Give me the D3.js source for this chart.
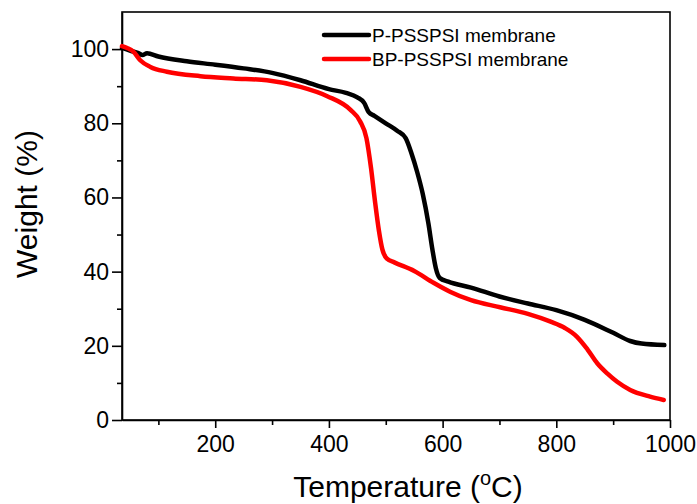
<!DOCTYPE html>
<html>
<head>
<meta charset="utf-8">
<script src="https://cdn.jsdelivr.net/npm/d3@7"></script>
<style>
  body { margin: 0; background: #fff; }
  svg { font-family: Arial, 'Liberation Sans', sans-serif; }
  .axis path, .axis line { stroke: #000; stroke-width: 1.6; }
</style>
</head>
<body>
<div id="chart"></div>
<script>
// series: [temperature (C), weight (%)]
var pTemp   = [36, 50, 65, 72, 80, 100, 150, 200, 250, 300, 350, 400, 430, 450, 462, 470, 480, 500, 520, 535, 545, 555, 565, 575, 582, 588, 595, 610, 650, 700, 750, 800, 850, 900, 930, 950, 990];
var pWeight = [100.3, 99.6, 98.9, 98.4, 98.9, 98.0, 96.7, 95.8, 94.8, 93.6, 91.6, 89.2, 88.2, 87.0, 85.5, 83.0, 82.0, 80.0, 78.0, 76.0, 72.0, 67.0, 61.0, 53.0, 46.0, 41.0, 38.3, 37.3, 35.7, 33.3, 31.4, 29.6, 27.0, 23.5, 21.3, 20.6, 20.2];

var bpTemp   = [36, 45, 56, 68, 86, 115, 174, 232, 291, 350, 397, 438, 455, 466, 474, 481, 488, 494, 502, 515, 550, 584, 613, 650, 701, 750, 790, 815, 836, 855, 872, 890, 907, 930, 965, 989];
var bpWeight = [100.8, 100.3, 99.3, 97.0, 95.2, 93.9, 92.7, 92.1, 91.6, 89.8, 87.3, 83.6, 80.5, 76.0, 68.0, 59.0, 51.0, 46.0, 43.5, 42.5, 40.2, 37.0, 34.6, 32.3, 30.4, 28.6, 26.5, 24.8, 22.5, 19.0, 15.3, 12.5, 10.3, 8.1, 6.3, 5.4];

var seriesNames = ['P-PSSPSI membrane', 'BP-PSSPSI membrane'];
var seriesColors = ['#000000', '#ff0000'];

var xMajor = [200, 400, 600, 800, 1000];
var xMinor = [100, 300, 500, 700, 900];
var yMajor = [0, 20, 40, 60, 80, 100];
var yMinor = [10, 30, 50, 70, 90];

var W = 697, H = 504;
var margin = {top: 12, right: 27, bottom: 84, left: 122};
var width = W - margin.left - margin.right,
    height = H - margin.top - margin.bottom;

var svg = d3.select('#chart').append('svg')
    .attr('width', W)
    .attr('height', H);

var chart = svg.append('g')
    .attr('transform', 'translate(' + margin.left + ',' + margin.top + ')');

var xScale = d3.scaleLinear().domain([36, 1000]).range([0, width]);
var yScale = d3.scaleLinear().domain([0, 110]).range([height, 0]);

// minor ticks first, majors on top
chart.append('g').attr('class', 'axis')
    .attr('transform', 'translate(0,' + height + ')')
    .call(d3.axisBottom(xScale).tickValues(xMinor).tickSize(5).tickFormat(''))
    .select('.domain').remove();
chart.append('g').attr('class', 'axis')
    .call(d3.axisLeft(yScale).tickValues(yMinor).tickSize(5).tickFormat(''))
    .select('.domain').remove();

var xAxisG = chart.append('g').attr('class', 'axis')
    .attr('transform', 'translate(0,' + height + ')')
    .call(d3.axisBottom(xScale).tickValues(xMajor).tickSize(8).tickSizeOuter(0)
            .tickPadding(8).tickFormat(d3.format('d')));
xAxisG.selectAll('text').style('font-size', '23px').attr('fill', '#000');

var yAxisG = chart.append('g').attr('class', 'axis')
    .call(d3.axisLeft(yScale).tickValues(yMajor).tickSize(10).tickSizeOuter(0).tickPadding(3));
yAxisG.selectAll('text').style('font-size', '23px').attr('fill', '#000');

// frame
chart.append('rect')
    .attr('width', width).attr('height', height)
    .attr('fill', 'none').attr('stroke', '#000').attr('stroke-width', 1.6);

// lines
var line = d3.line()
    .x(function(d) { return xScale(d[0]); })
    .y(function(d) { return yScale(d[1]); })
    .curve(d3.curveMonotoneX);

var series = [d3.zip(pTemp, pWeight), d3.zip(bpTemp, bpWeight)];
// black drawn first, red on top
series.forEach(function(s, i) {
    chart.append('path')
        .attr('d', line(s))
        .attr('fill', 'none')
        .attr('stroke', seriesColors[i])
        .attr('stroke-width', 4.5)
        .attr('stroke-linecap', 'round')
        .attr('stroke-linejoin', 'round');
});

// legend
var legend = svg.append('g').attr('transform', 'translate(324,35)');
seriesNames.forEach(function(name, i) {
    var g = legend.append('g').attr('transform', 'translate(0,' + (i * 24) + ')');
    g.append('line')
        .attr('x1', 0).attr('x2', 45)
        .attr('stroke', seriesColors[i])
        .attr('stroke-width', 4.5)
        .attr('stroke-linecap', 'round');
    g.append('text')
        .attr('x', 48).attr('y', 7)
        .style('font-size', '19px')
        .text(name);
});

// axis titles
var xTitle = svg.append('text')
    .attr('x', margin.left + width / 2 + 12)
    .attr('y', 497)
    .attr('text-anchor', 'middle')
    .style('font-size', '30px');
xTitle.append('tspan').text('Temperature (');
xTitle.append('tspan').attr('dy', -12).style('font-size', '20px').text('o');
xTitle.append('tspan').attr('dy', 12).text('C)');

svg.append('text')
    .attr('transform', 'translate(37,204) rotate(-90)')
    .attr('text-anchor', 'middle')
    .style('font-size', '30px')
    .text('Weight (%)');
</script>
</body>
</html>
